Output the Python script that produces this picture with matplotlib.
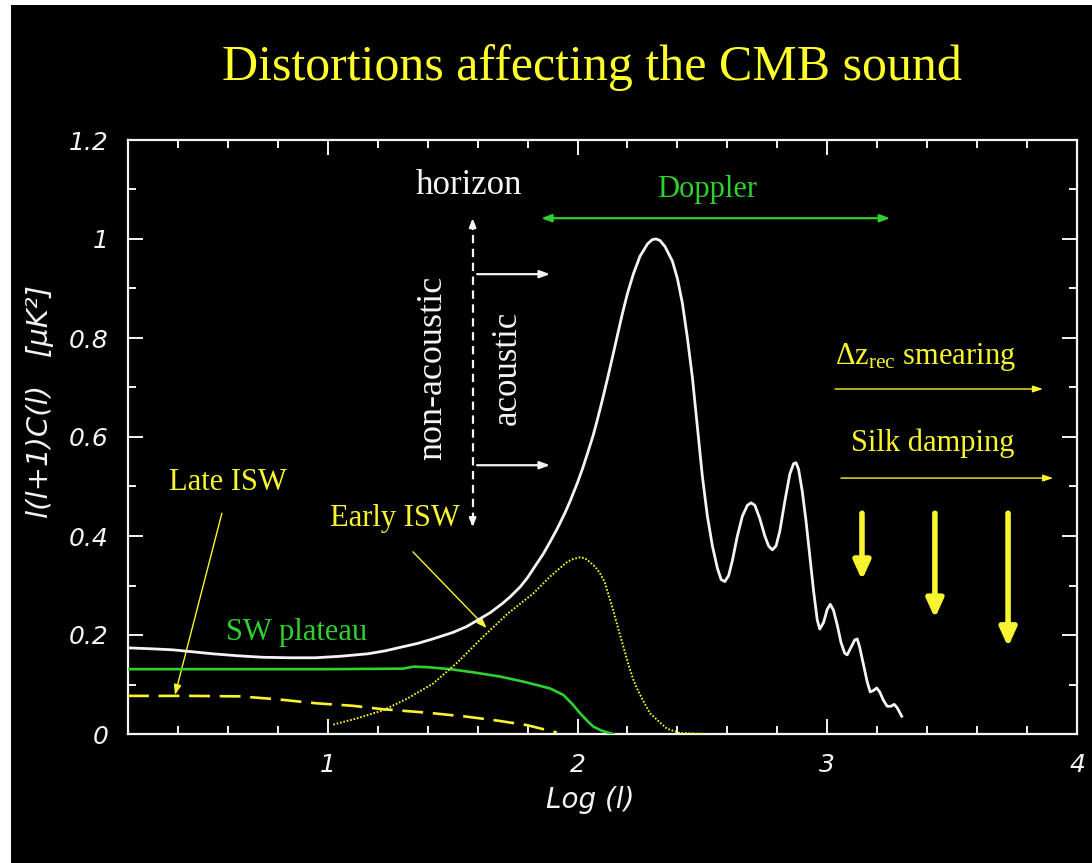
import matplotlib
matplotlib.use("Agg")
import matplotlib.pyplot as plt
from matplotlib.patches import Rectangle
import numpy as np

plt.rcParams['mathtext.fontset'] = 'custom'
plt.rcParams['mathtext.rm'] = 'Liberation Serif'
plt.rcParams['mathtext.it'] = 'Liberation Serif:italic'
plt.rcParams['lines.scale_dashes'] = False

# ---- spectrum data: log10(l) vs l(l+1)C(l) ----
total_logl = [0.20, 0.30, 0.38, 0.46, 0.54, 0.64, 0.74, 0.85, 0.95, 1.05, 1.16, 1.23, 1.29,
              1.36, 1.42, 1.50, 1.556, 1.60, 1.65, 1.70, 1.73, 1.77, 1.80, 1.83, 1.863, 1.89,
              1.92, 1.95, 1.97, 2.00, 2.02, 2.04, 2.063, 2.08, 2.10, 2.12, 2.143, 2.16, 2.18,
              2.20, 2.224, 2.25, 2.28, 2.30, 2.315, 2.33, 2.35, 2.38, 2.40, 2.42, 2.44, 2.46,
              2.48, 2.50, 2.52, 2.54, 2.56, 2.575, 2.59, 2.605, 2.62, 2.64, 2.66, 2.68, 2.695,
              2.71, 2.73, 2.75, 2.765, 2.78, 2.795, 2.81, 2.83, 2.85, 2.865, 2.875, 2.885, 2.90,
              2.915, 2.93, 2.945, 2.96, 2.97, 2.985, 3.00, 3.012, 3.025, 3.04, 3.055, 3.07,
              3.08, 3.095, 3.11, 3.12, 3.13, 3.145, 3.16, 3.172, 3.185, 3.198, 3.21, 3.225,
              3.24, 3.255, 3.268, 3.28, 3.298]
total_cl = [0.174, 0.172, 0.170, 0.166, 0.162, 0.158, 0.155, 0.154, 0.154, 0.157, 0.162, 0.168,
            0.175, 0.183, 0.192, 0.205, 0.217, 0.230, 0.245, 0.264, 0.277, 0.297, 0.316, 0.339,
            0.364, 0.388, 0.416, 0.447, 0.470, 0.508, 0.536, 0.567, 0.604, 0.636, 0.676, 0.718,
            0.768, 0.806, 0.850, 0.890, 0.930, 0.965, 0.990, 0.999, 1.000, 0.997, 0.985, 0.955,
            0.920, 0.870, 0.800, 0.720, 0.620, 0.520, 0.440, 0.380, 0.335, 0.312, 0.308, 0.320,
            0.350, 0.400, 0.440, 0.462, 0.467, 0.462, 0.435, 0.400, 0.380, 0.372, 0.380, 0.410,
            0.470, 0.525, 0.546, 0.548, 0.535, 0.490, 0.430, 0.360, 0.290, 0.230, 0.212, 0.225,
            0.252, 0.262, 0.250, 0.220, 0.185, 0.163, 0.160, 0.175, 0.190, 0.192, 0.175, 0.140,
            0.105, 0.085, 0.088, 0.093, 0.085, 0.068, 0.056, 0.056, 0.060, 0.053, 0.036]

sw_logl = [0.20, 0.60, 1.00, 1.30, 1.343, 1.40, 1.49, 1.59, 1.69, 1.79, 1.89, 1.943,
           1.98, 2.01, 2.04, 2.063, 2.10, 2.143]
sw_cl = [0.131, 0.131, 0.131, 0.132, 0.136, 0.135, 0.131, 0.124, 0.116, 0.105, 0.092, 0.079,
         0.060, 0.042, 0.026, 0.015, 0.006, 0.000]

late_logl = [0.20, 0.45, 0.65, 0.80, 0.955, 1.10, 1.222, 1.40, 1.556, 1.68, 1.797, 1.917]
late_cl = [0.077, 0.077, 0.076, 0.070, 0.062, 0.057, 0.050, 0.043, 0.035, 0.027, 0.018, 0.003]

early_logl = [1.022, 1.12, 1.222, 1.32, 1.422, 1.52, 1.623, 1.72, 1.823, 1.89, 1.943, 1.96,
              1.98, 2.01, 2.03, 2.05, 2.07, 2.09, 2.11, 2.125, 2.14, 2.157, 2.173, 2.19,
              2.207, 2.224, 2.24, 2.26, 2.29, 2.32, 2.357, 2.41, 2.517]
early_cl = [0.019, 0.032, 0.048, 0.072, 0.102, 0.145, 0.197, 0.243, 0.284, 0.318, 0.341, 0.348,
            0.353, 0.357, 0.355, 0.347, 0.338, 0.325, 0.305, 0.280, 0.255, 0.224, 0.195, 0.165,
            0.135, 0.109, 0.090, 0.070, 0.042, 0.028, 0.011, 0.002, 0.000]

xtick_vals = [1, 2, 3, 4]
xtick_labels = ['1', '2', '3', '4']
ytick_vals = [0, 0.2, 0.4, 0.6, 0.8, 1.0, 1.2]
ytick_labels = ['0', '0.2', '0.4', '0.6', '0.8', '1', '1.2']

WHITE = '#f4f4f4'
YELLOW = '#f8f530'
GREEN = '#2fd02f'

fig = plt.figure(figsize=(10.92, 8.63), dpi=100)
fig.patch.set_facecolor('white')
fig.add_artist(Rectangle((11 / 1092, 0), 1 - 11 / 1092, 1 - 5 / 863,
                         transform=fig.transFigure, facecolor='black', edgecolor='none', zorder=0))

ax = fig.add_axes([128 / 1092, 1 - 734 / 863, (1077 - 128) / 1092, (734 - 140) / 863])
ax.set_facecolor('black')
ax.set_xlim(0.2, 4.0)
ax.set_ylim(0, 1.2)

for s in ax.spines.values():
    s.set_color(WHITE)
    s.set_linewidth(1.6)

ax.set_xticks(xtick_vals)
ax.set_xticklabels(xtick_labels)
ax.set_xticks(np.arange(0.2, 4.0, 0.2), minor=True)
ax.set_yticks(ytick_vals)
ax.set_yticklabels(ytick_labels)
ax.set_yticks(np.arange(0.1, 1.2, 0.2), minor=True)
ax.tick_params(which='both', direction='in', top=True, right=True, color=WHITE, width=1.4)
ax.tick_params(which='major', length=11)
ax.tick_params(which='minor', length=6)
ax.tick_params(axis='x', which='major', pad=14)
ax.tick_params(axis='y', which='major', pad=14)
for lab in ax.get_xticklabels() + ax.get_yticklabels():
    lab.set_color(WHITE)
    lab.set_fontsize(18)
    lab.set_fontstyle('italic')
    lab.set_family('DejaVu Sans')

# curves
ax.plot(total_logl, total_cl, color=WHITE, lw=2.0, zorder=5, solid_joinstyle='round')
ax.plot(sw_logl, sw_cl, color=GREEN, lw=1.9, zorder=4)
ax.plot(late_logl, late_cl, color=YELLOW, lw=1.9, dashes=(15, 7), zorder=4)
ax.plot(early_logl, early_cl, color=YELLOW, lw=1.4, dashes=(1.2, 1.3), zorder=4)

serif = 'Liberation Serif'

# horizon marker
ax.plot([1.58, 1.58], [0.43, 1.03], color=WHITE, lw=1.6, dashes=(6, 4))
for y0, y1 in [(1.02, 1.042), (0.43, 0.418)]:
    ax.annotate('', xy=(1.58, y1), xytext=(1.58, y0),
                arrowprops=dict(arrowstyle='-|>,head_length=0.5,head_width=0.2',
                                color=WHITE, lw=1.6, shrinkA=0, shrinkB=0))
for yy in [0.929, 0.543]:
    ax.annotate('', xy=(1.89, yy), xytext=(1.598, yy),
                arrowprops=dict(arrowstyle='-|>,head_length=0.6,head_width=0.22',
                                color=WHITE, lw=1.6, shrinkA=0, shrinkB=0))
ax.text(1.565, 1.109, 'horizon', color=WHITE, fontsize=25, family=serif,
        ha='center', va='center')
ax.text(1.421, 0.739, 'non-acoustic', color=WHITE, fontsize=26, family=serif,
        ha='center', va='center', rotation=90)
ax.text(1.718, 0.740, 'acoustic', color=WHITE, fontsize=25, family=serif,
        ha='center', va='center', rotation=90)

# Doppler range
ax.annotate('', xy=(3.252, 1.042), xytext=(1.854, 1.042),
            arrowprops=dict(arrowstyle='<|-|>,head_length=0.6,head_width=0.22',
                            color=GREEN, lw=1.6, shrinkA=0, shrinkB=0))
ax.text(2.518, 1.099, 'Doppler', color=GREEN, fontsize=22, family=serif,
        ha='center', va='center')

# small-scale damping
ax.text(3.395, 0.762, r'$\Delta$z$_{\mathrm{rec}}$ smearing', color=YELLOW, fontsize=22,
        family=serif, ha='center', va='center')
ax.annotate('', xy=(3.864, 0.697), xytext=(3.031, 0.697),
            arrowprops=dict(arrowstyle='-|>,head_length=0.6,head_width=0.2',
                            color=YELLOW, lw=1.0, shrinkA=0, shrinkB=0))
ax.text(3.423, 0.588, 'Silk damping', color=YELLOW, fontsize=22, family=serif,
        ha='center', va='center')
ax.annotate('', xy=(3.905, 0.517), xytext=(3.055, 0.517),
            arrowprops=dict(arrowstyle='-|>,head_length=0.6,head_width=0.2',
                            color=YELLOW, lw=1.0, shrinkA=0, shrinkB=0))
for xx, ybot in [(3.139, 0.311), (3.431, 0.234), (3.724, 0.176)]:
    ax.annotate('', xy=(xx, ybot), xytext=(xx, 0.446),
                arrowprops=dict(arrowstyle='-|>,head_length=1.1,head_width=0.5',
                                color=YELLOW, lw=4, shrinkA=0, shrinkB=0))

# ISW and plateau labels
ax.text(0.60, 0.509, 'Late ISW', color=YELLOW, fontsize=22, family=serif,
        ha='center', va='center')
ax.annotate('', xy=(0.388, 0.079), xytext=(0.576, 0.446),
            arrowprops=dict(arrowstyle='-|>,head_length=0.6,head_width=0.22',
                            color=YELLOW, lw=1.0, shrinkA=0, shrinkB=0))
ax.text(1.27, 0.436, 'Early ISW', color=YELLOW, fontsize=22, family=serif,
        ha='center', va='center')
ax.annotate('', xy=(1.636, 0.214), xytext=(1.341, 0.368),
            arrowprops=dict(arrowstyle='-|>,head_length=0.6,head_width=0.22',
                            color=YELLOW, lw=1.0, shrinkA=0, shrinkB=0))
ax.text(0.873, 0.206, 'SW plateau', color=GREEN, fontsize=22, family=serif,
        ha='center', va='center')

# titles and axis labels
fig.text(592 / 1092, 1 - 68 / 863, 'Distortions affecting the CMB sound', color='#ffff2a',
         fontsize=36, family=serif, ha='center', va='center')
fig.text(40 / 1092, 1 - 402 / 863, 'l(l+1)C(l)   [μK²]', color=WHITE, fontsize=21,
         family='DejaVu Sans', style='italic', rotation=90, ha='center', va='center')
fig.text(590 / 1092, 1 - 800 / 863, 'Log (l)', color=WHITE, fontsize=20,
         family='DejaVu Sans', style='italic', ha='center', va='center')

fig.savefig('out.png', dpi=100, facecolor=fig.get_facecolor())
